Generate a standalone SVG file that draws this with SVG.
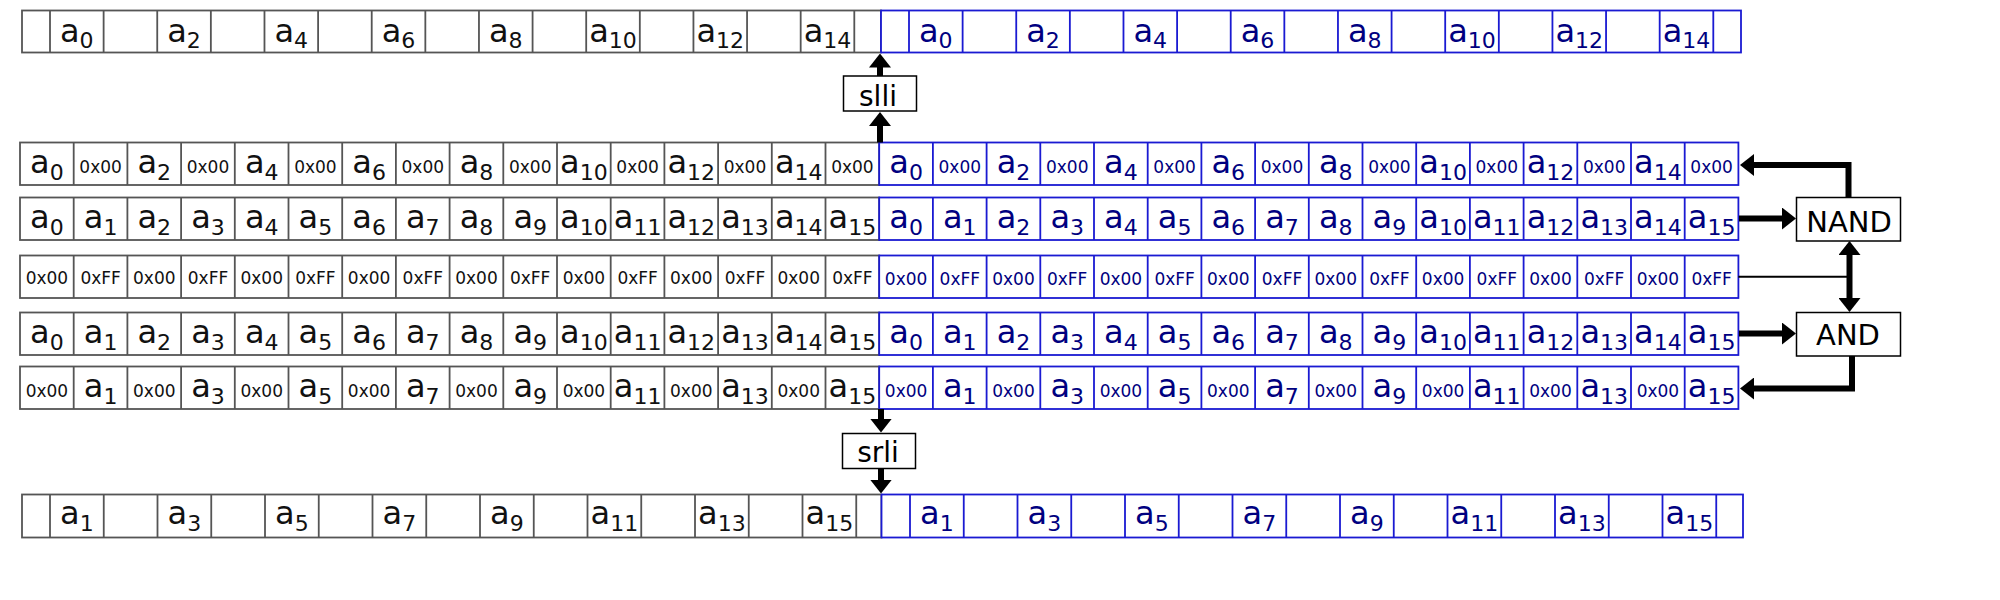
<svg xmlns="http://www.w3.org/2000/svg" xmlns:xlink="http://www.w3.org/1999/xlink" width="2000" height="600" viewBox="0 0 2000 600">
<style>
.g{fill:none;stroke:#555;stroke-width:1.8}
.gf{fill:#fff;stroke:#555;stroke-width:1.8}
.b{fill:none;stroke:#1a1ad2;stroke-width:1.8}
.bf{fill:#fff;stroke:#1a1ad2;stroke-width:1.8}
text{font-family:"DejaVu Sans","Liberation Sans",sans-serif;text-anchor:middle}
.tg{fill:#111}
.tb{fill:#000080}
.a{font-size:32px}
.s{font-size:22px}
.h{font-size:17px}
.op{fill:#fff;stroke:#000;stroke-width:1.5}
.ot{font-size:28px;fill:#000}
.ar{fill:none;stroke:#000;stroke-width:6;stroke-linejoin:miter}
.thin{fill:none;stroke:#000;stroke-width:2}
</style>
<defs>
<marker id="ah" markerUnits="userSpaceOnUse" markerWidth="14" markerHeight="22" refX="4" refY="11" orient="auto-start-reverse" viewBox="0 0 14 22"><path d="M0,0 L14,11 L0,22 z" fill="#000"/></marker>
<path id="dg" d="M73.7 0v42.5M127.4 0v42.5M181.1 0v42.5M234.8 0v42.5M288.5 0v42.5M342.2 0v42.5M395.9 0v42.5M449.6 0v42.5M503.3 0v42.5M557 0v42.5M610.7 0v42.5M664.4 0v42.5M718.1 0v42.5M771.8 0v42.5M825.5 0v42.5"/>
<path id="db" d="M932.9 0v42.5M986.6 0v42.5M1040.3 0v42.5M1094 0v42.5M1147.7 0v42.5M1201.4 0v42.5M1255.1 0v42.5M1308.8 0v42.5M1362.5 0v42.5M1416.2 0v42.5M1469.9 0v42.5M1523.6 0v42.5M1577.3 0v42.5M1631 0v42.5M1684.7 0v42.5"/>
<path id="tdg" d="M50 0v42M103.62 0v42M157.24 0v42M210.86 0v42M264.48 0v42M318.1 0v42M371.72 0v42M425.34 0v42M478.96 0v42M532.58 0v42M586.2 0v42M639.82 0v42M693.44 0v42M747.06 0v42M800.68 0v42M854.3 0v42"/>
<path id="tdb" d="M909 0v42M962.62 0v42M1016.24 0v42M1069.86 0v42M1123.48 0v42M1177.1 0v42M1230.72 0v42M1284.34 0v42M1337.96 0v42M1391.58 0v42M1445.2 0v42M1498.82 0v42M1552.44 0v42M1606.06 0v42M1659.68 0v42M1713.3 0v42"/>
<path id="bdg" d="M50 0v43M103.75 0v43M157.5 0v43M211.25 0v43M265 0v43M318.75 0v43M372.5 0v43M426.25 0v43M480 0v43M533.75 0v43M587.5 0v43M641.25 0v43M695 0v43M748.75 0v43M802.5 0v43M856.25 0v43"/>
<path id="bdb" d="M910 0v43M963.75 0v43M1017.5 0v43M1071.25 0v43M1125 0v43M1178.75 0v43M1232.5 0v43M1286.25 0v43M1340 0v43M1393.75 0v43M1447.5 0v43M1501.25 0v43M1555 0v43M1608.75 0v43M1662.5 0v43M1716.25 0v43"/>
</defs>
<rect width="2000" height="600" fill="#fff"/>

<!-- top row (slli result) -->
<g id="top-gray">
<rect class="gf" x="22" y="10.5" width="859" height="42"/>
<use href="#tdg" class="g" y="10.5"/>
<g class="tg a">
<text x="76.8" y="41.5">a<tspan class="s" dy="6">0</tspan></text>
<text x="184" y="41.5">a<tspan class="s" dy="6">2</tspan></text>
<text x="291.3" y="41.5">a<tspan class="s" dy="6">4</tspan></text>
<text x="398.5" y="41.5">a<tspan class="s" dy="6">6</tspan></text>
<text x="505.8" y="41.5">a<tspan class="s" dy="6">8</tspan></text>
<text x="613" y="41.5">a<tspan class="s" dy="6">10</tspan></text>
<text x="720.3" y="41.5">a<tspan class="s" dy="6">12</tspan></text>
<text x="827.5" y="41.5">a<tspan class="s" dy="6">14</tspan></text>
</g>
</g>
<g id="top-blue">
<rect class="bf" x="881" y="10.5" width="860" height="42"/>
<use href="#tdb" class="b" y="10.5"/>
<g class="tb a">
<text x="935.8" y="41.5">a<tspan class="s" dy="6">0</tspan></text>
<text x="1043" y="41.5">a<tspan class="s" dy="6">2</tspan></text>
<text x="1150.3" y="41.5">a<tspan class="s" dy="6">4</tspan></text>
<text x="1257.5" y="41.5">a<tspan class="s" dy="6">6</tspan></text>
<text x="1364.8" y="41.5">a<tspan class="s" dy="6">8</tspan></text>
<text x="1472" y="41.5">a<tspan class="s" dy="6">10</tspan></text>
<text x="1579.3" y="41.5">a<tspan class="s" dy="6">12</tspan></text>
<text x="1686.5" y="41.5">a<tspan class="s" dy="6">14</tspan></text>
</g>
</g>

<!-- row 1: NAND result -->
<g id="r1-gray">
<rect class="gf" x="20" y="142.5" width="859.2" height="42.5"/>
<use href="#dg" class="g" y="142.5"/>
<g class="tg">
<text class="a" x="46.9" y="172.5">a<tspan class="s" dy="7">0</tspan></text>
<text class="h" x="100.6" y="172.5">0x00</text>
<text class="a" x="154.3" y="172.5">a<tspan class="s" dy="7">2</tspan></text>
<text class="h" x="208" y="172.5">0x00</text>
<text class="a" x="261.7" y="172.5">a<tspan class="s" dy="7">4</tspan></text>
<text class="h" x="315.4" y="172.5">0x00</text>
<text class="a" x="369.1" y="172.5">a<tspan class="s" dy="7">6</tspan></text>
<text class="h" x="422.8" y="172.5">0x00</text>
<text class="a" x="476.5" y="172.5">a<tspan class="s" dy="7">8</tspan></text>
<text class="h" x="530.2" y="172.5">0x00</text>
<text class="a" x="583.9" y="172.5">a<tspan class="s" dy="7">10</tspan></text>
<text class="h" x="637.6" y="172.5">0x00</text>
<text class="a" x="691.3" y="172.5">a<tspan class="s" dy="7">12</tspan></text>
<text class="h" x="745" y="172.5">0x00</text>
<text class="a" x="798.7" y="172.5">a<tspan class="s" dy="7">14</tspan></text>
<text class="h" x="852.4" y="172.5">0x00</text>
</g>
</g>
<g id="r1-blue">
<rect class="bf" x="879.2" y="142.5" width="859.2" height="42.5"/>
<use href="#db" class="b" y="142.5"/>
<g class="tb">
<text class="a" x="906.1" y="172.5">a<tspan class="s" dy="7">0</tspan></text>
<text class="h" x="959.8" y="172.5">0x00</text>
<text class="a" x="1013.5" y="172.5">a<tspan class="s" dy="7">2</tspan></text>
<text class="h" x="1067.2" y="172.5">0x00</text>
<text class="a" x="1120.9" y="172.5">a<tspan class="s" dy="7">4</tspan></text>
<text class="h" x="1174.6" y="172.5">0x00</text>
<text class="a" x="1228.3" y="172.5">a<tspan class="s" dy="7">6</tspan></text>
<text class="h" x="1282" y="172.5">0x00</text>
<text class="a" x="1335.7" y="172.5">a<tspan class="s" dy="7">8</tspan></text>
<text class="h" x="1389.4" y="172.5">0x00</text>
<text class="a" x="1443.1" y="172.5">a<tspan class="s" dy="7">10</tspan></text>
<text class="h" x="1496.8" y="172.5">0x00</text>
<text class="a" x="1550.5" y="172.5">a<tspan class="s" dy="7">12</tspan></text>
<text class="h" x="1604.2" y="172.5">0x00</text>
<text class="a" x="1657.9" y="172.5">a<tspan class="s" dy="7">14</tspan></text>
<text class="h" x="1711.6" y="172.5">0x00</text>
</g>
</g>

<!-- row 2: source a -->
<g id="r2-gray">
<rect class="gf" x="20" y="197.5" width="859.2" height="42.5"/>
<use href="#dg" class="g" y="197.5"/>
<g class="tg a">
<text x="46.9" y="227.5">a<tspan class="s" dy="7">0</tspan></text>
<text x="100.6" y="227.5">a<tspan class="s" dy="7">1</tspan></text>
<text x="154.3" y="227.5">a<tspan class="s" dy="7">2</tspan></text>
<text x="208" y="227.5">a<tspan class="s" dy="7">3</tspan></text>
<text x="261.7" y="227.5">a<tspan class="s" dy="7">4</tspan></text>
<text x="315.4" y="227.5">a<tspan class="s" dy="7">5</tspan></text>
<text x="369.1" y="227.5">a<tspan class="s" dy="7">6</tspan></text>
<text x="422.8" y="227.5">a<tspan class="s" dy="7">7</tspan></text>
<text x="476.5" y="227.5">a<tspan class="s" dy="7">8</tspan></text>
<text x="530.2" y="227.5">a<tspan class="s" dy="7">9</tspan></text>
<text x="583.9" y="227.5">a<tspan class="s" dy="7">10</tspan></text>
<text x="637.6" y="227.5">a<tspan class="s" dy="7">11</tspan></text>
<text x="691.3" y="227.5">a<tspan class="s" dy="7">12</tspan></text>
<text x="745" y="227.5">a<tspan class="s" dy="7">13</tspan></text>
<text x="798.7" y="227.5">a<tspan class="s" dy="7">14</tspan></text>
<text x="852.4" y="227.5">a<tspan class="s" dy="7">15</tspan></text>
</g>
</g>
<g id="r2-blue">
<rect class="bf" x="879.2" y="197.5" width="859.2" height="42.5"/>
<use href="#db" class="b" y="197.5"/>
<g class="tb a">
<text x="906.1" y="227.5">a<tspan class="s" dy="7">0</tspan></text>
<text x="959.8" y="227.5">a<tspan class="s" dy="7">1</tspan></text>
<text x="1013.5" y="227.5">a<tspan class="s" dy="7">2</tspan></text>
<text x="1067.2" y="227.5">a<tspan class="s" dy="7">3</tspan></text>
<text x="1120.9" y="227.5">a<tspan class="s" dy="7">4</tspan></text>
<text x="1174.6" y="227.5">a<tspan class="s" dy="7">5</tspan></text>
<text x="1228.3" y="227.5">a<tspan class="s" dy="7">6</tspan></text>
<text x="1282" y="227.5">a<tspan class="s" dy="7">7</tspan></text>
<text x="1335.7" y="227.5">a<tspan class="s" dy="7">8</tspan></text>
<text x="1389.4" y="227.5">a<tspan class="s" dy="7">9</tspan></text>
<text x="1443.1" y="227.5">a<tspan class="s" dy="7">10</tspan></text>
<text x="1496.8" y="227.5">a<tspan class="s" dy="7">11</tspan></text>
<text x="1550.5" y="227.5">a<tspan class="s" dy="7">12</tspan></text>
<text x="1604.2" y="227.5">a<tspan class="s" dy="7">13</tspan></text>
<text x="1657.9" y="227.5">a<tspan class="s" dy="7">14</tspan></text>
<text x="1711.6" y="227.5">a<tspan class="s" dy="7">15</tspan></text>
</g>
</g>

<!-- row 3: mask -->
<g id="r3-gray">
<rect class="gf" x="20" y="255.5" width="859.2" height="42.5"/>
<use href="#dg" class="g" y="255.5"/>
<g class="tg h">
<text x="46.9" y="283.5">0x00</text>
<text x="100.6" y="283.5">0xFF</text>
<text x="154.3" y="283.5">0x00</text>
<text x="208" y="283.5">0xFF</text>
<text x="261.7" y="283.5">0x00</text>
<text x="315.4" y="283.5">0xFF</text>
<text x="369.1" y="283.5">0x00</text>
<text x="422.8" y="283.5">0xFF</text>
<text x="476.5" y="283.5">0x00</text>
<text x="530.2" y="283.5">0xFF</text>
<text x="583.9" y="283.5">0x00</text>
<text x="637.6" y="283.5">0xFF</text>
<text x="691.3" y="283.5">0x00</text>
<text x="745" y="283.5">0xFF</text>
<text x="798.7" y="283.5">0x00</text>
<text x="852.4" y="283.5">0xFF</text>
</g>
</g>
<g id="r3-blue">
<rect class="bf" x="879.2" y="255.5" width="859.2" height="42.5"/>
<use href="#db" class="b" y="255.5"/>
<g class="tb h">
<text x="906.1" y="284.5">0x00</text>
<text x="959.8" y="284.5">0xFF</text>
<text x="1013.5" y="284.5">0x00</text>
<text x="1067.2" y="284.5">0xFF</text>
<text x="1120.9" y="284.5">0x00</text>
<text x="1174.6" y="284.5">0xFF</text>
<text x="1228.3" y="284.5">0x00</text>
<text x="1282" y="284.5">0xFF</text>
<text x="1335.7" y="284.5">0x00</text>
<text x="1389.4" y="284.5">0xFF</text>
<text x="1443.1" y="284.5">0x00</text>
<text x="1496.8" y="284.5">0xFF</text>
<text x="1550.5" y="284.5">0x00</text>
<text x="1604.2" y="284.5">0xFF</text>
<text x="1657.9" y="284.5">0x00</text>
<text x="1711.6" y="284.5">0xFF</text>
</g>
</g>

<!-- row 4: source a -->
<g id="r4-gray">
<rect class="gf" x="20" y="312.5" width="859.2" height="42.5"/>
<use href="#dg" class="g" y="312.5"/>
<g class="tg a">
<text x="46.9" y="342.5">a<tspan class="s" dy="7">0</tspan></text>
<text x="100.6" y="342.5">a<tspan class="s" dy="7">1</tspan></text>
<text x="154.3" y="342.5">a<tspan class="s" dy="7">2</tspan></text>
<text x="208" y="342.5">a<tspan class="s" dy="7">3</tspan></text>
<text x="261.7" y="342.5">a<tspan class="s" dy="7">4</tspan></text>
<text x="315.4" y="342.5">a<tspan class="s" dy="7">5</tspan></text>
<text x="369.1" y="342.5">a<tspan class="s" dy="7">6</tspan></text>
<text x="422.8" y="342.5">a<tspan class="s" dy="7">7</tspan></text>
<text x="476.5" y="342.5">a<tspan class="s" dy="7">8</tspan></text>
<text x="530.2" y="342.5">a<tspan class="s" dy="7">9</tspan></text>
<text x="583.9" y="342.5">a<tspan class="s" dy="7">10</tspan></text>
<text x="637.6" y="342.5">a<tspan class="s" dy="7">11</tspan></text>
<text x="691.3" y="342.5">a<tspan class="s" dy="7">12</tspan></text>
<text x="745" y="342.5">a<tspan class="s" dy="7">13</tspan></text>
<text x="798.7" y="342.5">a<tspan class="s" dy="7">14</tspan></text>
<text x="852.4" y="342.5">a<tspan class="s" dy="7">15</tspan></text>
</g>
</g>
<g id="r4-blue">
<rect class="bf" x="879.2" y="312.5" width="859.2" height="42.5"/>
<use href="#db" class="b" y="312.5"/>
<g class="tb a">
<text x="906.1" y="342.5">a<tspan class="s" dy="7">0</tspan></text>
<text x="959.8" y="342.5">a<tspan class="s" dy="7">1</tspan></text>
<text x="1013.5" y="342.5">a<tspan class="s" dy="7">2</tspan></text>
<text x="1067.2" y="342.5">a<tspan class="s" dy="7">3</tspan></text>
<text x="1120.9" y="342.5">a<tspan class="s" dy="7">4</tspan></text>
<text x="1174.6" y="342.5">a<tspan class="s" dy="7">5</tspan></text>
<text x="1228.3" y="342.5">a<tspan class="s" dy="7">6</tspan></text>
<text x="1282" y="342.5">a<tspan class="s" dy="7">7</tspan></text>
<text x="1335.7" y="342.5">a<tspan class="s" dy="7">8</tspan></text>
<text x="1389.4" y="342.5">a<tspan class="s" dy="7">9</tspan></text>
<text x="1443.1" y="342.5">a<tspan class="s" dy="7">10</tspan></text>
<text x="1496.8" y="342.5">a<tspan class="s" dy="7">11</tspan></text>
<text x="1550.5" y="342.5">a<tspan class="s" dy="7">12</tspan></text>
<text x="1604.2" y="342.5">a<tspan class="s" dy="7">13</tspan></text>
<text x="1657.9" y="342.5">a<tspan class="s" dy="7">14</tspan></text>
<text x="1711.6" y="342.5">a<tspan class="s" dy="7">15</tspan></text>
</g>
</g>

<!-- row 5: AND result -->
<g id="r5-gray">
<rect class="gf" x="20" y="366.5" width="859.2" height="42.5"/>
<use href="#dg" class="g" y="366.5"/>
<g class="tg">
<text class="h" x="46.9" y="396.5">0x00</text>
<text class="a" x="100.6" y="396.5">a<tspan class="s" dy="7">1</tspan></text>
<text class="h" x="154.3" y="396.5">0x00</text>
<text class="a" x="208" y="396.5">a<tspan class="s" dy="7">3</tspan></text>
<text class="h" x="261.7" y="396.5">0x00</text>
<text class="a" x="315.4" y="396.5">a<tspan class="s" dy="7">5</tspan></text>
<text class="h" x="369.1" y="396.5">0x00</text>
<text class="a" x="422.8" y="396.5">a<tspan class="s" dy="7">7</tspan></text>
<text class="h" x="476.5" y="396.5">0x00</text>
<text class="a" x="530.2" y="396.5">a<tspan class="s" dy="7">9</tspan></text>
<text class="h" x="583.9" y="396.5">0x00</text>
<text class="a" x="637.6" y="396.5">a<tspan class="s" dy="7">11</tspan></text>
<text class="h" x="691.3" y="396.5">0x00</text>
<text class="a" x="745" y="396.5">a<tspan class="s" dy="7">13</tspan></text>
<text class="h" x="798.7" y="396.5">0x00</text>
<text class="a" x="852.4" y="396.5">a<tspan class="s" dy="7">15</tspan></text>
</g>
</g>
<g id="r5-blue">
<rect class="bf" x="879.2" y="366.5" width="859.2" height="42.5"/>
<use href="#db" class="b" y="366.5"/>
<g class="tb">
<text class="h" x="906.1" y="396.5">0x00</text>
<text class="a" x="959.8" y="396.5">a<tspan class="s" dy="7">1</tspan></text>
<text class="h" x="1013.5" y="396.5">0x00</text>
<text class="a" x="1067.2" y="396.5">a<tspan class="s" dy="7">3</tspan></text>
<text class="h" x="1120.9" y="396.5">0x00</text>
<text class="a" x="1174.6" y="396.5">a<tspan class="s" dy="7">5</tspan></text>
<text class="h" x="1228.3" y="396.5">0x00</text>
<text class="a" x="1282" y="396.5">a<tspan class="s" dy="7">7</tspan></text>
<text class="h" x="1335.7" y="396.5">0x00</text>
<text class="a" x="1389.4" y="396.5">a<tspan class="s" dy="7">9</tspan></text>
<text class="h" x="1443.1" y="396.5">0x00</text>
<text class="a" x="1496.8" y="396.5">a<tspan class="s" dy="7">11</tspan></text>
<text class="h" x="1550.5" y="396.5">0x00</text>
<text class="a" x="1604.2" y="396.5">a<tspan class="s" dy="7">13</tspan></text>
<text class="h" x="1657.9" y="396.5">0x00</text>
<text class="a" x="1711.6" y="396.5">a<tspan class="s" dy="7">15</tspan></text>
</g>
</g>

<!-- bottom row (srli result) -->
<g id="bottom-gray">
<rect class="gf" x="22" y="494.5" width="859.5" height="43"/>
<use href="#bdg" class="g" y="494.5"/>
<g class="tg a">
<text x="76.9" y="523.5">a<tspan class="s" dy="7">1</tspan></text>
<text x="184.4" y="523.5">a<tspan class="s" dy="7">3</tspan></text>
<text x="291.9" y="523.5">a<tspan class="s" dy="7">5</tspan></text>
<text x="399.4" y="523.5">a<tspan class="s" dy="7">7</tspan></text>
<text x="506.9" y="523.5">a<tspan class="s" dy="7">9</tspan></text>
<text x="614.4" y="523.5">a<tspan class="s" dy="7">11</tspan></text>
<text x="721.9" y="523.5">a<tspan class="s" dy="7">13</tspan></text>
<text x="829.4" y="523.5">a<tspan class="s" dy="7">15</tspan></text>
</g>
</g>
<g id="bottom-blue">
<rect class="bf" x="881.5" y="494.5" width="861.5" height="43"/>
<use href="#bdb" class="b" y="494.5"/>
<g class="tb a">
<text x="936.9" y="523.5">a<tspan class="s" dy="7">1</tspan></text>
<text x="1044.4" y="523.5">a<tspan class="s" dy="7">3</tspan></text>
<text x="1151.9" y="523.5">a<tspan class="s" dy="7">5</tspan></text>
<text x="1259.4" y="523.5">a<tspan class="s" dy="7">7</tspan></text>
<text x="1366.9" y="523.5">a<tspan class="s" dy="7">9</tspan></text>
<text x="1474.4" y="523.5">a<tspan class="s" dy="7">11</tspan></text>
<text x="1581.9" y="523.5">a<tspan class="s" dy="7">13</tspan></text>
<text x="1689.4" y="523.5">a<tspan class="s" dy="7">15</tspan></text>
</g>
</g>

<!-- operation boxes -->
<g id="slli">
<rect class="op" x="843.5" y="76" width="73" height="35"/>
<text class="ot" x="878" y="105.5">slli</text>
</g>
<g id="srli">
<rect class="op" x="842.5" y="433.5" width="73" height="35"/>
<text class="ot" x="878" y="461.5">srli</text>
</g>
<g id="nand">
<rect class="op" x="1796.5" y="197.5" width="104" height="43.5"/>
<text class="ot" x="1849" y="231.5" style="font-size:29px">NAND</text>
</g>
<g id="and">
<rect class="op" x="1796.5" y="312.5" width="104" height="43.5"/>
<text class="ot" x="1848" y="345" style="font-size:29px">AND</text>
</g>

<!-- connectors -->
<g id="connectors">
<path class="ar" d="M880 142.5V122" marker-end="url(#ah)"/>
<path class="ar" d="M880 76V63.5" marker-end="url(#ah)"/>
<path class="ar" d="M881 409V422.5" marker-end="url(#ah)"/>
<path class="ar" d="M881 468.5V483.5" marker-end="url(#ah)"/>
<path class="ar" d="M1739 218.5H1786" marker-end="url(#ah)"/>
<path class="ar" d="M1739 333.5H1786" marker-end="url(#ah)"/>
<path class="ar" d="M1848.5 197.5V165H1750" marker-end="url(#ah)"/>
<path class="ar" d="M1852 356V388.5H1750" marker-end="url(#ah)"/>
<path class="thin" d="M1738.4 276.7H1849"/>
<path class="ar" d="M1849.5 251V302" marker-start="url(#ah)" marker-end="url(#ah)"/>
</g>
</svg>
